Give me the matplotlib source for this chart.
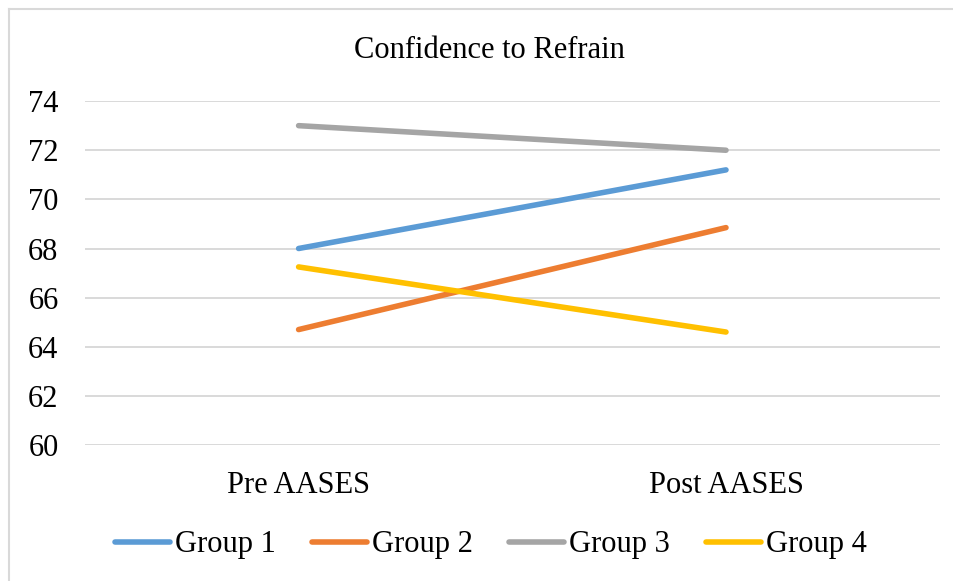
import numpy as np
import matplotlib
matplotlib.use("Agg")
import matplotlib.pyplot as plt
from matplotlib.lines import Line2D

# data
categories = ["Pre AASES", "Post AASES"]
group_names = ["Group 1", "Group 2", "Group 3", "Group 4"]
group_1 = [68.0, 71.2]
group_2 = [64.7, 68.85]
group_3 = [73.0, 72.0]
group_4 = [67.25, 64.6]
colors = ["#5B9BD5", "#ED7D31", "#A5A5A5", "#FFC000"]
yticks = [60, 62, 64, 66, 68, 70, 72, 74]

plt.rcParams['font.family'] = ['Liberation Serif', 'DejaVu Serif']

fig = plt.figure(figsize=(9.54, 5.81), dpi=100)
ax = fig.add_axes([0.089, 0.234, 0.896, 0.592])

xs = np.arange(len(categories))
for vals, name, c in zip([group_1, group_2, group_3, group_4], group_names, colors):
    ax.plot(xs, vals, color=c, lw=4.0, solid_capstyle='round', label=name, zorder=3)

ax.set_xlim(-0.5, 1.5)
ax.set_ylim(60, 74)
ax.set_yticks(yticks)
ax.set_xticks(xs)
ax.set_xticklabels(categories)
ax.grid(axis='y', color='#d9d9d9', lw=1.4)
ax.set_axisbelow(True)
for s in ax.spines.values():
    s.set_visible(False)
ax.tick_params(axis='both', length=0, labelsize=22)
ax.tick_params(axis='y', pad=19)
ax.tick_params(axis='x', pad=19)

fig.text(0.5126, 0.913, "Confidence to Refrain", ha='center', va='center', fontsize=22)

fig.legend(loc='center', bbox_to_anchor=(0.5146, 0.062), ncol=4, frameon=False,
           fontsize=22, handlelength=1.8, handletextpad=0.15, columnspacing=1.2)

# chart area border (left and top edges visible)
fig.add_artist(Line2D([0.0095, 0.0095], [0.0, 0.985], color='#d9d9d9', lw=1.5, transform=fig.transFigure))
fig.add_artist(Line2D([0.0095, 1.0], [0.985, 0.985], color='#d9d9d9', lw=1.5, transform=fig.transFigure))

fig.savefig("out.png", dpi=100)
